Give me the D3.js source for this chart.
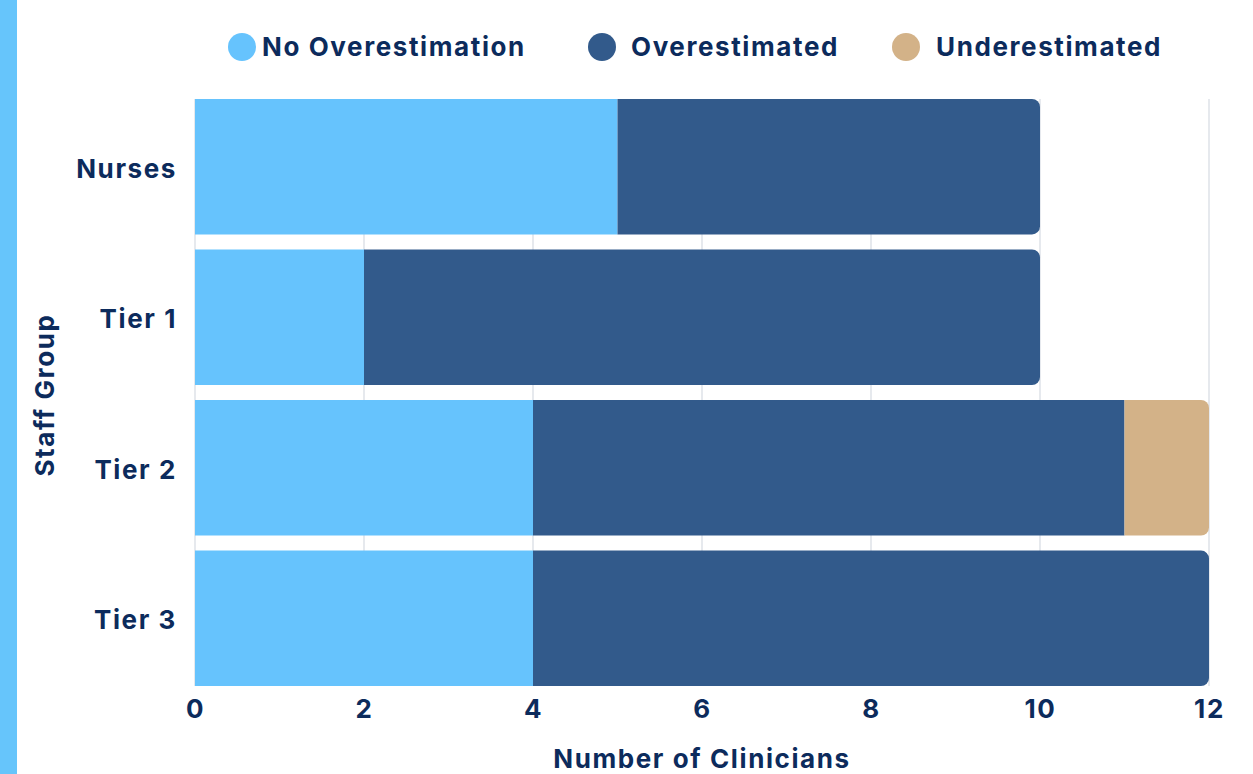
<!DOCTYPE html>
<html>
<head>
<meta charset="utf-8">
<script src="https://cdn.jsdelivr.net/npm/d3@7"></script>
<style>
  body { margin: 0; background: #fff; }
  text { font-family: Inter, "Open Sans", sans-serif; font-weight: 700; fill: #0c2b5c; letter-spacing: 1.6px; }
</style>
</head>
<body>
<svg id="svg" width="1253" height="774"></svg>
<script>
const groups = ['Nurses', 'Tier 1', 'Tier 2', 'Tier 3']
const noOver = [5, 2, 4, 4]
const over = [5, 8, 7, 8]
const under = [0, 0, 1, 0]
const seriesNames = ['No Overestimation', 'Overestimated', 'Underestimated']
const seriesColors = ['#66c3fd', '#325a8b', '#d3b288']
const xTicks = [0, 2, 4, 6, 8, 10, 12]

const svg = d3.select('#svg')

// left accent strip
svg.append('rect').attr('x', 0).attr('y', 0).attr('width', 17).attr('height', 774).attr('fill', '#66c5fb')

const x = d3.scaleLinear().domain([0, 12]).range([195, 1209])
const y = d3.scaleBand().domain(groups).range([99, 686]).paddingInner(0.1).paddingOuter(0)

// grid
svg.append('g')
  .selectAll('line')
  .data(xTicks)
  .enter()
  .append('line')
  .attr('x1', d => x(d)).attr('x2', d => x(d))
  .attr('y1', 99).attr('y2', 686)
  .attr('stroke', '#d6dbe2')
  .attr('stroke-width', 1.2)

// stack data
const rows = groups.map((g, i) => ({ group: g, 0: noOver[i], 1: over[i], 2: under[i] }))
const stack = d3.stack().keys([0, 1, 2])(rows)

// which series is the last non-zero one for each row
const lastKey = rows.map(r => [2, 1, 0].find(k => r[k] > 0))

const r = 8
function segPath(x0, x1, y0, h, rounded) {
  if (!rounded) return `M${x0},${y0}H${x1}V${y0 + h}H${x0}Z`
  return `M${x0},${y0}H${x1 - r}A${r},${r} 0 0 1 ${x1},${y0 + r}V${y0 + h - r}A${r},${r} 0 0 1 ${x1 - r},${y0 + h}H${x0}Z`
}

stack.forEach((layer, si) => {
  svg.append('g')
    .attr('fill', seriesColors[si])
    .selectAll('path')
    .data(layer.filter(d => d[1] > d[0]))
    .enter()
    .append('path')
    .attr('d', d => {
      const idx = groups.indexOf(d.data.group)
      return segPath(x(d[0]), x(d[1]), y(d.data.group), y.bandwidth(), lastKey[idx] === si)
    })
})

// x axis
const xAxis = svg.append('g')
  .attr('transform', 'translate(0,686)')
  .call(d3.axisBottom(x).tickValues(xTicks).tickSize(0).tickPadding(14))
xAxis.select('.domain').remove()
xAxis.selectAll('text').style('font-size', '26px').style('font-family', 'Inter, sans-serif').attr('fill', '#0c2b5c')

// y axis
const yAxis = svg.append('g')
  .attr('transform', 'translate(195,0)')
  .call(d3.axisLeft(y).tickSize(0).tickPadding(18))
yAxis.select('.domain').remove()
yAxis.selectAll('text').style('font-size', '26px').style('font-family', 'Inter, sans-serif').attr('fill', '#0c2b5c').attr('dy', '0.42em')

// axis titles
svg.append('text')
  .attr('x', 702).attr('y', 768)
  .attr('text-anchor', 'middle')
  .style('font-size', '26px')
  .text('Number of Clinicians')

svg.append('text')
  .attr('transform', 'translate(54,395) rotate(-90)')
  .attr('text-anchor', 'middle')
  .style('font-size', '26px')
  .text('Staff Group')

// legend
const legendX = [242, 602, 906]
const legendTextX = [262, 631, 936]
const legend = svg.append('g')
  .selectAll('g')
  .data(seriesNames)
  .enter()
  .append('g')
legend.append('circle')
  .attr('cx', (d, i) => legendX[i]).attr('cy', 47)
  .attr('r', 14).attr('fill', (d, i) => seriesColors[i])
legend.append('text')
  .attr('x', (d, i) => legendTextX[i]).attr('y', 47).attr('dy', '0.36em')
  .style('font-size', '26px')
  .text(d => d)
</script>
</body>
</html>
